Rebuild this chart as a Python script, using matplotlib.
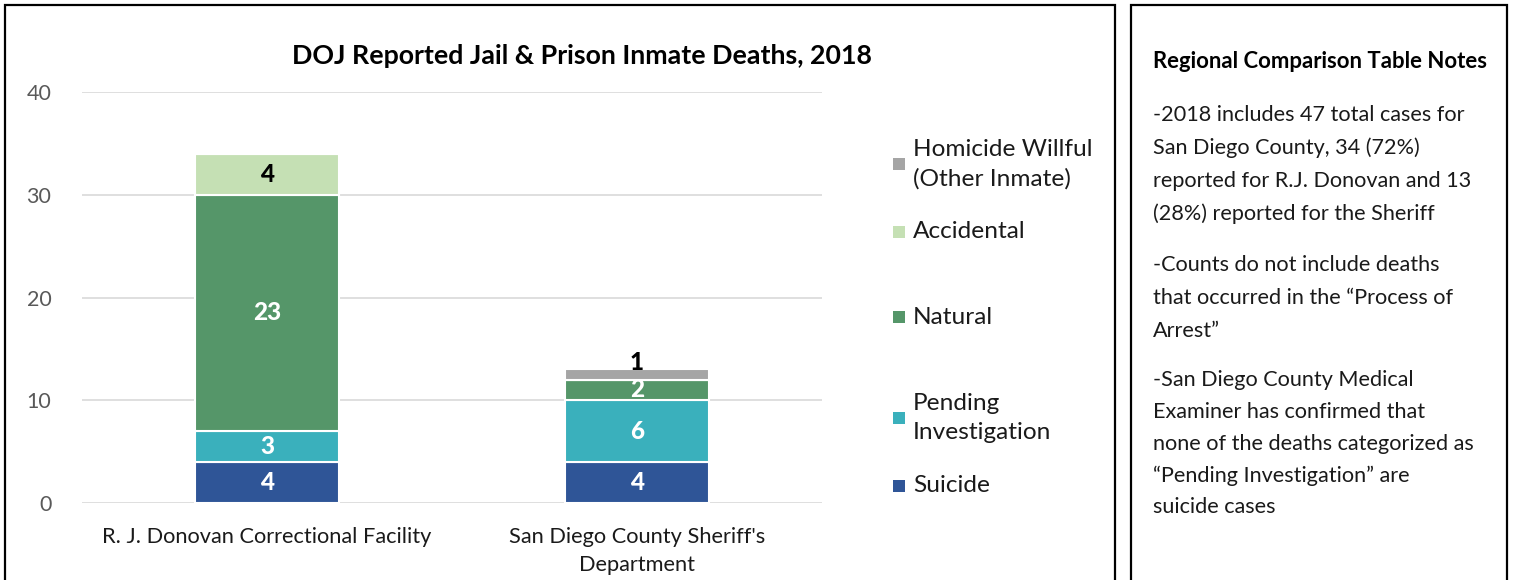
import matplotlib
matplotlib.use("Agg")
import matplotlib.pyplot as plt
from matplotlib.patches import Rectangle
import numpy as np

plt.rcParams['font.family'] = ['Lato', 'DejaVu Sans']

categories = ["R. J. Donovan Correctional Facility", "San Diego County Sheriff's\nDepartment"]
series_names = ["Suicide", "Pending\nInvestigation", "Natural", "Accidental", "Homicide Willful\n(Other Inmate)"]
suicide = [4, 4]
pending = [3, 6]
natural = [23, 2]
accidental = [4, 0]
homicide = [0, 1]
series_values = [suicide, pending, natural, accidental, homicide]
colors = ["#2F5597", "#3AB0BC", "#559669", "#C5E0B4", "#A5A5A5"]
label_colors = ["white", "white", "white", "black", "black"]
yticks = [0, 10, 20, 30, 40]

notes_title = "Regional Comparison Table Notes"
notes_lines = [
    ("-2018 includes 47 total cases for", 115),
    ("San Diego County, 34 (72%)", 148),
    ("reported for R.J. Donovan and 13", 181),
    ("(28%) reported for the Sheriff", 214),
    ("-Counts do not include deaths", 265),
    ("that occurred in the \u201cProcess of", 298),
    ("Arrest\u201d", 331),
    ("-San Diego County Medical", 380),
    ("Examiner has confirmed that", 412),
    ("none of the deaths categorized as", 444),
    ("\u201cPending Investigation\u201d are", 476),
    ("suicide cases", 507),
]

W, H = 1515, 580
fig = plt.figure(figsize=(W / 100, H / 100), dpi=100)

def fx(px):
    return px / W

def fy(py):
    return 1 - py / H

# panel boxes
fig.patches.append(Rectangle((fx(5), fy(600)), fx(1115) - fx(5), fy(5) - fy(600),
                             transform=fig.transFigure, fill=False, edgecolor="black", lw=1.6))
fig.patches.append(Rectangle((fx(1131), fy(600)), fx(1507) - fx(1131), fy(5) - fy(600),
                             transform=fig.transFigure, fill=False, edgecolor="black", lw=1.6))

ax = fig.add_axes([fx(82), fy(503), fx(822) - fx(82), fy(92) - fy(503)])
x = np.arange(len(categories))
bottom = np.zeros(len(categories))
for name, vals, c, lc in zip(series_names, series_values, colors, label_colors):
    vals = np.array(vals, dtype=float)
    ax.bar(x, vals, width=0.39, bottom=bottom, color=c, edgecolor="white", linewidth=1.5, zorder=3)
    for xi, v, b in zip(x, vals, bottom):
        if v <= 0:
            continue
        yc = b + v / 2
        if v < 1.5:
            ax.annotate(f"{int(v)}", (xi, b + v), xytext=(0, 5), textcoords="offset points",
                        ha="center", va="center", color=lc, fontsize=17.5, fontweight="black", zorder=4)
        else:
            ax.text(xi, yc, f"{int(v)}", ha="center", va="center", color=lc,
                    fontsize=17.5, fontweight="black", zorder=4)
    bottom += vals

ax.set_xlim(-0.5, 1.5)
ax.set_ylim(0, 40)
ax.set_yticks(yticks)
ax.set_yticklabels([str(t) for t in yticks], color="#595959", fontsize=15.5)
ax.set_xticks(x)
ax.set_xticklabels(categories, fontsize=15.7, color="#1a1a1a", linespacing=1.55)
ax.tick_params(axis="both", length=0)
ax.tick_params(axis="y", pad=22)
ax.tick_params(axis="x", pad=17)
ax.grid(axis="y", color="#D9D9D9", lw=1.2, zorder=0)
for s in ax.spines.values():
    s.set_visible(False)
ax.set_facecolor("none")

fig.text(fx(582), fy(56), "DOJ Reported Jail & Prison Inmate Deaths, 2018", ha="center", va="center",
         fontsize=19.3, fontweight="bold", color="black")

# legend (manual, Excel-like spacing)
legend_pos = [486, 418, 317, 232, 164]
for name, c, py in zip(series_names, colors, legend_pos):
    fig.patches.append(Rectangle((fx(893), fy(py) - (12 / H) / 2), fx(12), 12 / H,
                                 transform=fig.transFigure, facecolor=c, edgecolor="none"))
    fig.text(fx(913), fy(py), name, ha="left", va="center", fontsize=17.6, color="#1a1a1a",
             linespacing=1.45)

fig.text(fx(1153), fy(62), notes_title, ha="left", va="center", fontsize=15.9, fontweight="bold",
         color="black")
for line, py in notes_lines:
    fig.text(fx(1153), fy(py), line, ha="left", va="center", fontsize=15.6, color="#1a1a1a")

fig.savefig("out.png", dpi=100)
